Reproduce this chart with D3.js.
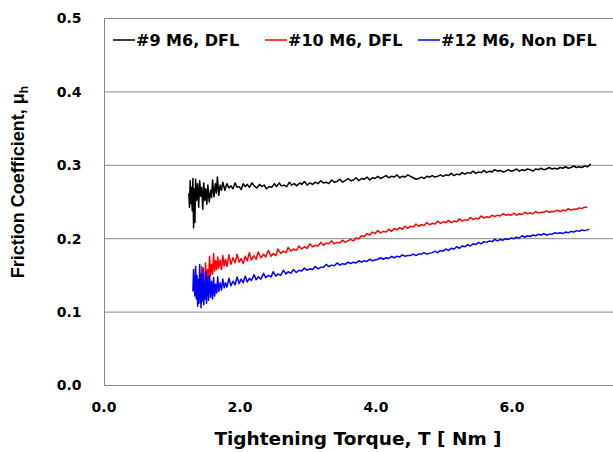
<!DOCTYPE html>
<html>
  <head>
    <meta charset="UTF-8">
    <title>Friction Coefficient vs Tightening Torque</title>
    <script src="https://cdn.jsdelivr.net/npm/d3@7"></script>
    <style type="text/css">
      body { margin: 0; background: #fff; }
      .tick text { font: bold 14px 'DejaVu Sans'; fill: #000; }
      .legend text { font: bold 16px 'DejaVu Sans'; fill: #000; }
      .title { font: bold 18px 'Liberation Sans'; fill: #000; }
      .xtitle { font: bold 18.5px 'DejaVu Sans'; fill: #000; }
    </style>
  </head>
  <body>
    <script>

      // Data: [torque (Nm), friction coefficient]
      var names = ["#9 M6, DFL", "#10 M6, DFL", "#12 M6, Non DFL"];
      var colors = ["#000000", "#ff0000", "#0000ff"];
      var xTicks = [0, 2, 4, 6];
      var yTicks = [0, 0.1, 0.2, 0.3, 0.4, 0.5];

      var series9 = [
        [1.24,.262],[1.25,.243],[1.26,.279],[1.27,.248],[1.28,.27],[1.29,.238],[1.30,.282],[1.31,.215],
        [1.32,.268],[1.33,.222],[1.34,.281],[1.355,.252],[1.37,.275],[1.385,.243],[1.40,.279],[1.415,.258],
        [1.43,.27],[1.445,.24],[1.46,.276],[1.475,.252],[1.49,.268],[1.505,.247],[1.52,.273],[1.54,.25],
        [1.56,.266],[1.575,.256],[1.59,.28],[1.61,.257],[1.63,.275],[1.645,.262],[1.66,.284],[1.68,.259],
        [1.70,.273],[1.72,.266],[1.74,.277],[1.77,.266],[1.80,.275],[1.83,.269],[1.86,.272],[1.89,.268],
        [1.92,.276],[1.95,.27],[1.98,.271],[2.01,.267],[2.04,.275],[2.07,.271],[2.10,.274],[2.13,.27],
        [2.17,.276],[2.2,.272],[2.24,.269],[2.28,.274],[2.31,.271],[2.35,.273],[2.38,.268],[2.42,.271],
        [2.46,.27],[2.5,.275],[2.53,.271],[2.57,.276],[2.6,.272],[2.64,.273],[2.68,.271],[2.72,.277],
        [2.75,.273],[2.79,.275],[2.83,.272],[2.87,.276],[2.9,.274],[2.94,.278],[2.98,.273],[3.02,.276],
        [3.06,.274],[3.1,.277],[3.14,.275],[3.18,.279],[3.22,.276],[3.26,.277],[3.3,.275],[3.34,.28],
        [3.38,.277],[3.42,.278],[3.46,.281],[3.5,.277],[3.54,.279],[3.58,.282],[3.62,.279],[3.66,.28],
        [3.7,.283],[3.74,.279],[3.78,.282],[3.82,.281],[3.86,.284],[3.9,.28],[3.94,.283],[3.98,.282],
        [4.02,.285],[4.06,.282],[4.1,.284],[4.14,.286],[4.18,.283],[4.22,.285],[4.26,.284],[4.3,.287],
        [4.34,.283],[4.38,.285],[4.42,.284],[4.46,.287],[4.5,.285],[4.54,.283],[4.58,.281],[4.62,.282],
        [4.66,.284],[4.7,.282],[4.74,.285],[4.78,.284],[4.82,.286],[4.86,.284],[4.9,.285],[4.94,.287],
        [4.98,.285],[5.02,.287],[5.06,.286],[5.1,.289],[5.14,.286],[5.18,.288],[5.22,.287],[5.26,.29],
        [5.3,.288],[5.34,.29],[5.38,.289],[5.42,.292],[5.46,.289],[5.5,.291],[5.54,.29],[5.58,.293],
        [5.62,.29],[5.66,.292],[5.7,.291],[5.74,.294],[5.78,.292],[5.82,.293],[5.86,.291],[5.9,.292],
        [5.94,.294],[5.98,.292],[6.02,.293],[6.06,.295],[6.1,.292],[6.14,.294],[6.18,.293],[6.22,.295],
        [6.26,.294],[6.3,.292],[6.34,.295],[6.38,.294],[6.42,.296],[6.46,.294],[6.5,.295],[6.54,.297],
        [6.58,.295],[6.62,.296],[6.66,.295],[6.7,.297],[6.74,.296],[6.78,.298],[6.82,.296],[6.86,.297],
        [6.9,.299],[6.94,.297],[6.98,.298],[7.02,.297],[7.06,.299],[7.1,.298],[7.13,.3],[7.15,.302]
      ];

      var series10 = [
        [1.40,.128],[1.41,.152],[1.42,.133],[1.43,.162],[1.44,.138],[1.455,.148],[1.47,.135],[1.485,.167],
        [1.50,.142],[1.515,.158],[1.53,.145],[1.545,.176],[1.56,.15],[1.575,.165],[1.59,.152],[1.605,.18],
        [1.62,.156],[1.635,.17],[1.65,.158],[1.665,.175],[1.68,.16],[1.70,.171],[1.72,.158],[1.74,.177],
        [1.76,.163],[1.78,.172],[1.80,.162],[1.83,.178],[1.86,.165],[1.89,.174],[1.92,.167],[1.95,.179],
        [1.98,.168],[2.01,.173],[2.04,.166],[2.07,.176],[2.1,.17],[2.13,.181],[2.16,.171],[2.2,.177],
        [2.23,.172],[2.26,.182],[2.3,.174],[2.34,.179],[2.37,.175],[2.41,.184],[2.45,.176],[2.48,.18],
        [2.52,.177],[2.55,.186],[2.59,.18],[2.63,.183],[2.67,.181],[2.7,.188],[2.74,.183],[2.78,.186],
        [2.82,.184],[2.86,.19],[2.9,.186],[2.94,.189],[2.98,.187],[3.02,.193],[3.06,.189],[3.1,.191],
        [3.14,.19],[3.18,.195],[3.22,.191],[3.26,.194],[3.3,.193],[3.34,.197],[3.38,.193],[3.42,.195],
        [3.46,.194],[3.5,.198],[3.54,.195],[3.58,.197],[3.62,.199],[3.66,.197],[3.7,.201],[3.74,.2],
        [3.78,.204],[3.82,.203],[3.86,.207],[3.9,.205],[3.94,.209],[3.98,.207],[4.02,.211],[4.06,.208],
        [4.1,.21],[4.14,.209],[4.18,.213],[4.22,.21],[4.26,.214],[4.3,.212],[4.34,.215],[4.38,.213],
        [4.42,.217],[4.46,.214],[4.5,.217],[4.54,.216],[4.58,.22],[4.62,.217],[4.66,.219],[4.7,.218],
        [4.74,.222],[4.78,.219],[4.82,.221],[4.86,.22],[4.9,.224],[4.94,.221],[4.98,.223],[5.02,.222],
        [5.06,.225],[5.1,.222],[5.14,.224],[5.18,.223],[5.22,.227],[5.26,.224],[5.3,.226],[5.34,.225],
        [5.38,.229],[5.42,.226],[5.46,.228],[5.5,.227],[5.54,.231],[5.58,.228],[5.62,.23],[5.66,.229],
        [5.7,.232],[5.74,.23],[5.78,.232],[5.82,.231],[5.86,.234],[5.9,.232],[5.94,.233],[5.98,.232],
        [6.02,.235],[6.06,.232],[6.1,.234],[6.14,.233],[6.18,.236],[6.22,.234],[6.26,.235],[6.3,.234],
        [6.34,.237],[6.38,.235],[6.42,.236],[6.46,.236],[6.5,.238],[6.54,.236],[6.58,.237],[6.62,.237],
        [6.66,.239],[6.7,.237],[6.74,.239],[6.78,.238],[6.82,.241],[6.86,.239],[6.9,.24],[6.94,.24],
        [6.98,.242],[7.02,.241],[7.06,.243],[7.1,.243]
      ];

      var series12 = [
        [1.30,.128],[1.31,.158],[1.32,.135],[1.33,.122],[1.34,.162],[1.35,.118],[1.36,.15],[1.37,.108],
        [1.38,.145],[1.39,.112],[1.40,.165],[1.41,.125],[1.42,.106],[1.43,.152],[1.44,.115],[1.45,.16],
        [1.46,.11],[1.47,.14],[1.48,.118],[1.49,.155],[1.50,.112],[1.515,.148],[1.53,.116],[1.545,.15],
        [1.56,.12],[1.575,.142],[1.59,.118],[1.605,.147],[1.62,.122],[1.635,.138],[1.65,.126],[1.665,.148],
        [1.68,.128],[1.70,.14],[1.72,.13],[1.74,.145],[1.76,.133],[1.78,.14],[1.80,.134],[1.83,.146],
        [1.86,.136],[1.89,.142],[1.92,.137],[1.95,.148],[1.98,.139],[2.01,.145],[2.04,.14],[2.07,.149],
        [2.1,.141],[2.13,.146],[2.16,.143],[2.2,.151],[2.23,.144],[2.26,.148],[2.3,.145],[2.34,.153],
        [2.37,.147],[2.41,.15],[2.45,.148],[2.48,.155],[2.52,.149],[2.55,.152],[2.59,.15],[2.63,.157],
        [2.67,.152],[2.7,.155],[2.74,.153],[2.78,.158],[2.82,.154],[2.86,.157],[2.9,.156],[2.94,.16],
        [2.98,.157],[3.02,.159],[3.06,.158],[3.1,.162],[3.14,.159],[3.18,.161],[3.22,.161],[3.26,.165],
        [3.3,.162],[3.34,.164],[3.38,.163],[3.42,.167],[3.46,.164],[3.5,.166],[3.54,.165],[3.58,.168],
        [3.62,.166],[3.66,.168],[3.7,.167],[3.74,.17],[3.78,.168],[3.82,.17],[3.86,.169],[3.9,.172],
        [3.94,.17],[3.98,.171],[4.02,.172],[4.06,.174],[4.1,.172],[4.14,.174],[4.18,.173],[4.22,.176],
        [4.26,.174],[4.3,.176],[4.34,.175],[4.38,.178],[4.42,.176],[4.46,.177],[4.5,.177],[4.54,.179],
        [4.58,.177],[4.62,.179],[4.66,.179],[4.7,.181],[4.74,.179],[4.78,.18],[4.82,.181],[4.86,.183],
        [4.9,.181],[4.94,.184],[4.98,.183],[5.02,.186],[5.06,.184],[5.1,.187],[5.14,.186],[5.18,.189],
        [5.22,.187],[5.26,.19],[5.3,.189],[5.34,.192],[5.38,.19],[5.42,.193],[5.46,.192],[5.5,.195],
        [5.54,.193],[5.58,.196],[5.62,.195],[5.66,.197],[5.7,.196],[5.74,.199],[5.78,.197],[5.82,.199],
        [5.86,.198],[5.9,.2],[5.94,.199],[5.98,.201],[6.02,.2],[6.06,.202],[6.1,.201],[6.14,.204],
        [6.18,.202],[6.22,.204],[6.26,.203],[6.3,.205],[6.34,.204],[6.38,.206],[6.42,.205],[6.46,.207],
        [6.5,.205],[6.54,.206],[6.58,.206],[6.62,.208],[6.66,.207],[6.7,.208],[6.74,.207],[6.78,.209],
        [6.82,.208],[6.86,.21],[6.9,.209],[6.94,.211],[6.98,.21],[7.02,.212],[7.06,.211],[7.1,.212],
        [7.13,.213]
      ];

      var allSeries = [series9, series10, series12];

      // Build svg and canvas
      var svgWidth = 613,
          svgHeight = 452,
          margin = {top:18.5, left:104.5, bottom:66.5},
          height = svgHeight - margin.top - margin.bottom;

      var svg = d3.select("body")
                  .append("svg")
                  .attr("width", svgWidth)
                  .attr("height", svgHeight);

      var canvas = svg.append("g")
                      .attr("transform", "translate("+margin.left+","+margin.top+")");

      // Scales (axis runs to 8, the right part is cut off)
      var xScale = d3.scaleLinear()
                     .domain([0, 8])
                     .range([0, 544]);

      var yScale = d3.scaleLinear()
                     .domain([0, 0.5])
                     .range([height, 0]);

      // Gridlines
      canvas.append("g")
            .selectAll("line")
            .data(yTicks.filter(d => d > 0))
            .enter()
            .append("line")
            .attr("x1", 0)
            .attr("x2", svgWidth)
            .attr("y1", d => yScale(d))
            .attr("y2", d => yScale(d))
            .attr("stroke", "#868686")
            .attr("stroke-width", 1);

      // Axes
      var yAxis = d3.axisLeft(yScale)
                    .tickValues(yTicks)
                    .tickFormat(d3.format(".1f"))
                    .tickSize(0)
                    .tickPadding(23);

      var xAxis = d3.axisBottom(xScale)
                    .tickValues(xTicks)
                    .tickFormat(d3.format(".1f"))
                    .tickSize(0)
                    .tickPadding(17);

      var gY = canvas.append("g").call(yAxis);
      var gX = canvas.append("g")
                     .attr("transform", "translate(0,"+height+")")
                     .call(xAxis);

      gY.select(".domain").remove();
      gX.select(".domain").remove();
      gX.selectAll(".tick text").attr("dx", -1);

      canvas.append("line")
            .attr("x1", 0).attr("x2", 0)
            .attr("y1", 0).attr("y2", height)
            .attr("stroke", "#868686");
      canvas.append("line")
            .attr("x1", 0).attr("x2", svgWidth)
            .attr("y1", height).attr("y2", height)
            .attr("stroke", "#868686");

      // Series lines
      var line = d3.line()
                   .x(d => xScale(d[0]))
                   .y(d => yScale(d[1]));

      canvas.selectAll("path.series")
            .data(allSeries)
            .enter()
            .append("path")
            .attr("class", "series")
            .attr("fill", "none")
            .attr("stroke", (d, i) => colors[i])
            .attr("stroke-width", 1.5)
            .attr("stroke-linejoin", "round")
            .attr("d", line);

      // Legend
      var legendX = [8.5, 160.5, 313.5];
      var legend = canvas.append("g")
                         .attr("class", "legend")
                         .attr("transform", "translate(0,21.5)");

      var item = legend.selectAll("g")
                       .data(names)
                       .enter()
                       .append("g")
                       .attr("transform", (d, i) => "translate("+legendX[i]+",0)");

      item.append("line")
          .attr("x1", 0).attr("x2", 22)
          .attr("y1", 0).attr("y2", 0)
          .attr("stroke", (d, i) => colors[i])
          .attr("stroke-width", 1.5);

      item.append("text")
          .attr("x", 23)
          .attr("y", 6)
          .text(d => d);

      // Axis titles
      svg.append("text")
         .attr("class", "xtitle")
         .attr("x", 358)
         .attr("y", 445)
         .attr("text-anchor", "middle")
         .text("Tightening Torque, T [ Nm ]");

      var yTitle = svg.append("text")
                      .attr("class", "title")
                      .attr("transform", "translate(24,182) rotate(-90)")
                      .attr("text-anchor", "middle");
      yTitle.append("tspan").text("Friction Coefficient, μ");
      yTitle.append("tspan")
            .attr("dy", 4)
            .attr("font-size", "12px")
            .text("h");

    </script>
  </body>
</html>
